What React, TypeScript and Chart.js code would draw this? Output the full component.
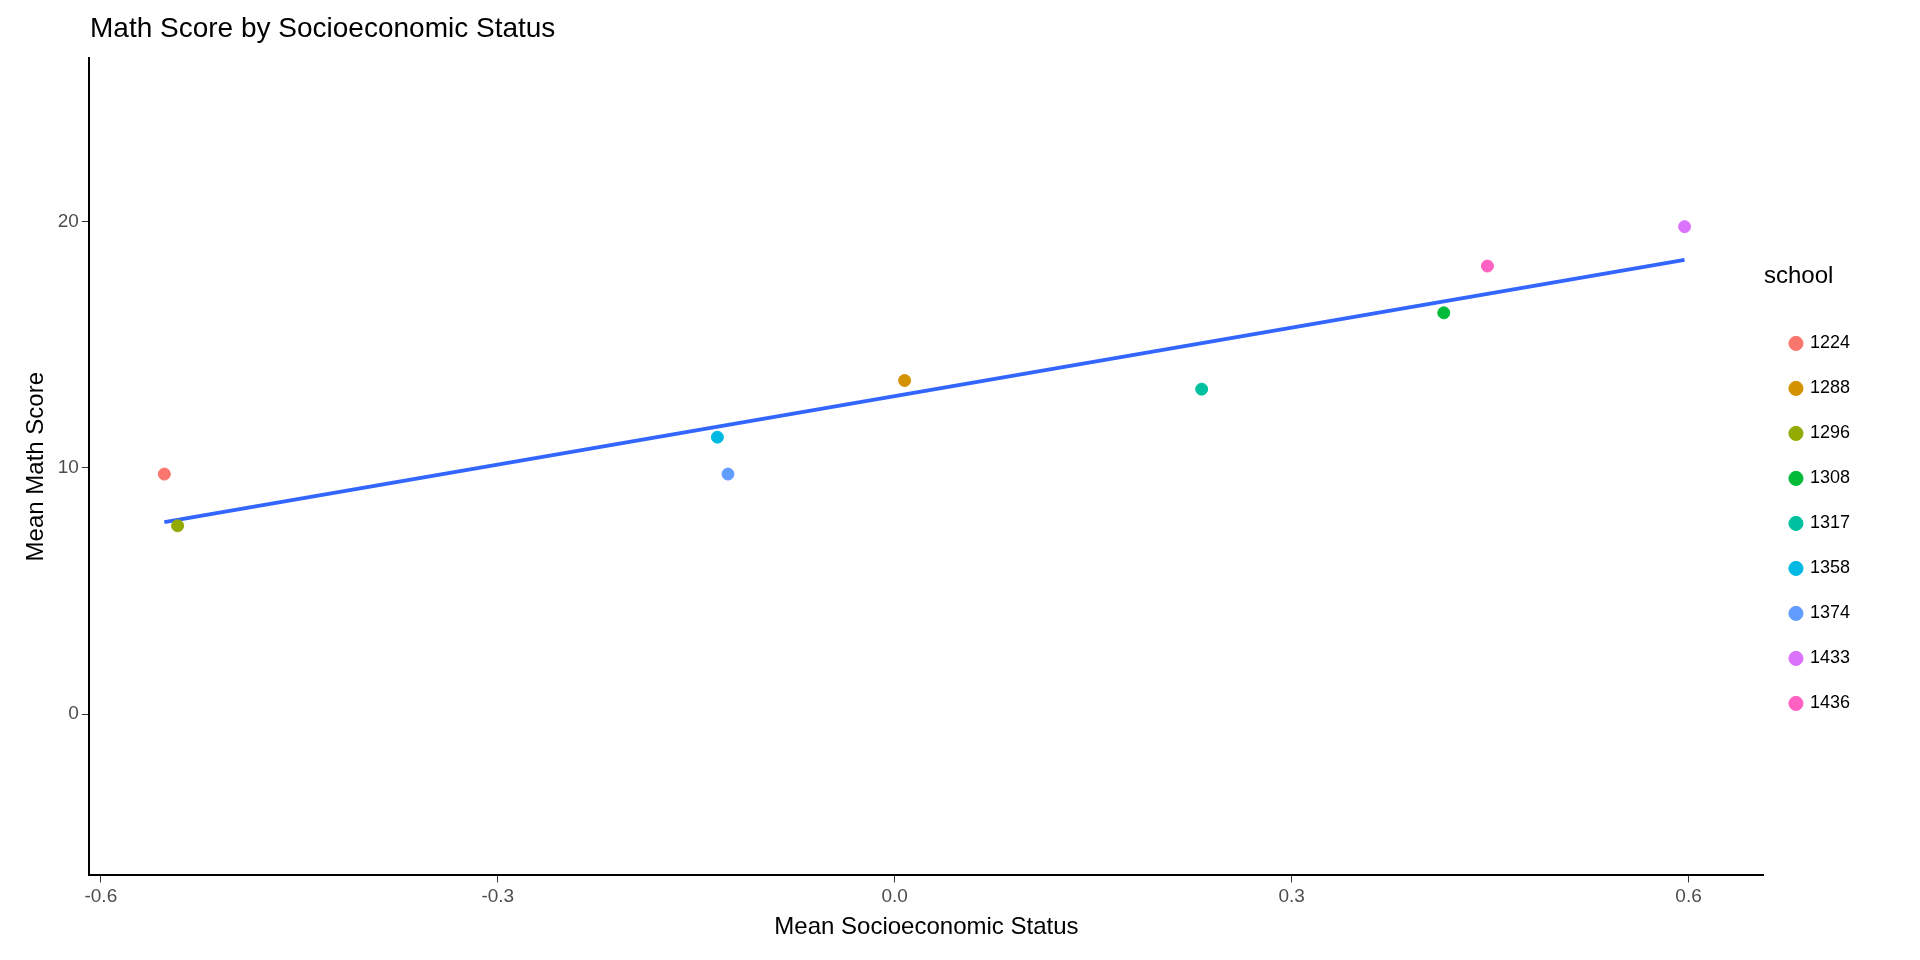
import React, { useEffect, useRef } from 'react';
import Chart from 'chart.js/auto';

const schools = ['1224', '1288', '1296', '1308', '1317', '1358', '1374', '1433', '1436'];
const meanSes = [-0.552, 0.0075, -0.542, 0.415, 0.232, -0.134, -0.126, 0.597, 0.448];
const meanMath = [9.75, 13.55, 7.65, 16.3, 13.2, 11.25, 9.75, 19.8, 18.2];
const colors = ['#F8766D', '#D39200', '#93AA00', '#00BA38', '#00C19F', '#00B9E3', '#619CFF', '#DB72FB', '#FF61C3'];
const fitLine = [
  { x: -0.552, y: 7.8 },
  { x: 0.597, y: 18.45 },
];
const xTicks = [-0.6, -0.3, 0, 0.3, 0.6];
const yTicks = [0, 10, 20];

const font = 'Liberation Sans, Arial, sans-serif';

export default function App() {
  const ref = useRef<HTMLCanvasElement | null>(null);

  useEffect(() => {
    if (!ref.current) return;
    const datasets: any[] = schools.map((s, i) => ({
      type: 'scatter',
      label: s,
      data: [{ x: meanSes[i], y: meanMath[i] }],
      backgroundColor: colors[i],
      borderColor: colors[i],
      pointRadius: 6,
      pointHoverRadius: 6,
    }));
    datasets.push({
      type: 'line',
      label: 'fit',
      data: fitLine,
      borderColor: '#3366FF',
      borderWidth: 4,
      pointRadius: 0,
      fill: false,
    });
    const chart = new Chart(ref.current, {
      type: 'scatter',
      data: { datasets },
      options: {
        animation: false,
        responsive: true,
        maintainAspectRatio: false,
        layout: { padding: { left: 18, right: 60, top: 58, bottom: 14 } },
        plugins: {
          title: { display: false },
          legend: {
            position: 'right',
            align: 'center',
            title: {
              display: true,
              text: 'school',
              position: 'start',
              color: '#000',
              font: { family: font, size: 24 },
              padding: { top: 0, bottom: 14 },
            },
            labels: {
              filter: (item) => item.text !== 'fit',
              usePointStyle: true,
              pointStyle: 'circle',
              boxWidth: 10,
              boxHeight: 10,
              padding: 27,
              color: '#000',
              font: { family: font, size: 18 },
            },
          },
          tooltip: { enabled: false },
        },
        scales: {
          x: {
            type: 'linear',
            min: -0.609,
            max: 0.657,
            afterBuildTicks: (s: any) => { s.ticks = xTicks.map((v) => ({ value: v })); },
            ticks: {
              color: '#4D4D4D',
              font: { family: font, size: 19 },
              callback: (v: any) => Number(v).toFixed(1),
            },
            grid: { drawOnChartArea: false, color: '#000', tickLength: 7, tickColor: '#333' },
            border: { color: '#000', width: 2 },
            title: {
              display: true,
              text: 'Mean Socioeconomic Status',
              color: '#000',
              font: { family: font, size: 24 },
              padding: { top: 2 },
            },
          },
          y: {
            type: 'linear',
            min: -6.55,
            max: 26.65,
            afterBuildTicks: (s: any) => { s.ticks = yTicks.map((v) => ({ value: v })); },
            ticks: { color: '#4D4D4D', font: { family: font, size: 19 } },
            grid: { drawOnChartArea: false, color: '#000', tickLength: 7, tickColor: '#333' },
            border: { color: '#000', width: 2 },
            title: {
              display: true,
              text: 'Mean Math Score',
              color: '#000',
              font: { family: font, size: 24 },
            },
          },
        },
      },
    });
    return () => chart.destroy();
  }, []);

  return (
    <div style={{ position: 'fixed', inset: 0, width: 1920, height: 960, background: '#fff' }}>
      <div
        style={{
          position: 'absolute',
          left: 90,
          top: 12,
          fontFamily: font,
          fontSize: 28,
          color: '#000',
        }}
      >
        Math Score by Socioeconomic Status
      </div>
      <canvas ref={ref}></canvas>
    </div>
  );
}
